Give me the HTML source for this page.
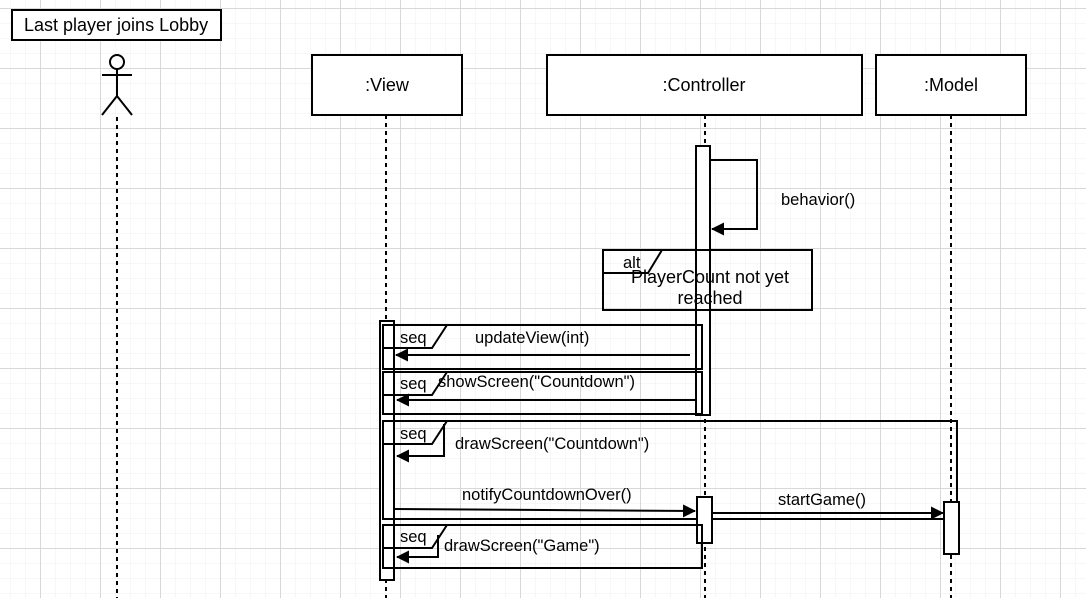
<!DOCTYPE html>
<html><head><style>
html,body{margin:0;padding:0;background:#fff;}
svg{display:block;font-family:"Liberation Sans",Arial,sans-serif;}
</style></head><body>
<svg width="1086" height="598" viewBox="0 0 1086 598" xmlns="http://www.w3.org/2000/svg">
<defs>
<pattern id="minor" x="10" y="8" width="15" height="15" patternUnits="userSpaceOnUse">
<path d="M0 0H15M0 0V15" stroke="#efefef" stroke-width="1" fill="none"/>
</pattern>
<pattern id="major" x="40" y="8" width="60" height="60" patternUnits="userSpaceOnUse">
<path d="M0 0.5H60M0.5 0V60" stroke="#d8d8d8" stroke-width="1" fill="none"/>
</pattern>
<marker id="ar" markerWidth="13" markerHeight="13" refX="12" refY="6.5" orient="auto" markerUnits="userSpaceOnUse">
<path d="M0 0L13 6.5L0 13Z" fill="#000"/>
</marker>
</defs>
<rect width="1086" height="598" fill="url(#minor)"/>
<rect width="1086" height="598" fill="url(#major)"/>
<g stroke="#000" stroke-width="2" fill="none">
<rect x="12" y="10" width="209" height="30" fill="#fff"/>
<circle cx="117" cy="62" r="7" fill="#fff"/>
<path d="M117 69V96M102 75H132M102 115L117 96L132 115"/>
<path d="M117 117V598M386 115V598M705 115V598M951 115V598" stroke-dasharray="4 4"/>
<rect x="312" y="55" width="150" height="60" fill="#fff"/>
<rect x="547" y="55" width="315" height="60" fill="#fff"/>
<rect x="876" y="55" width="150" height="60" fill="#fff"/>
<rect x="696" y="146" width="14" height="269" fill="#fff"/>
<path d="M710 160H757V229H712" marker-end="url(#ar)"/>
<rect x="603" y="250" width="209" height="60"/>
<path d="M603 273H648L662 250"/>
<rect x="380" y="321" width="14" height="259" fill="#fff"/>
<rect x="383" y="325" width="319" height="44"/>
<path d="M383 348H432L447 325"/>
<path d="M690 355H396" marker-end="url(#ar)"/>
<rect x="383" y="372" width="319" height="42"/>
<path d="M383 395H432L447 372"/>
<path d="M695 400H397" marker-end="url(#ar)"/>
<rect x="383" y="421" width="574" height="98"/>
<path d="M383 444H432L447 421"/>
<path d="M444 424V456H397" marker-end="url(#ar)"/>
<path d="M394 509L695 511" marker-end="url(#ar)"/>
<rect x="697" y="497" width="15" height="46" fill="#fff"/>
<path d="M712 513H943" marker-end="url(#ar)"/>
<rect x="944" y="502" width="15" height="52" fill="#fff"/>
<rect x="383" y="525" width="319" height="43"/>
<path d="M383 548H432L447 525"/>
<path d="M438 535V557H397" marker-end="url(#ar)"/>
</g>
<g font-size="18" fill="#000">
<text x="24" y="31">Last player joins Lobby</text>
<text x="387" y="91" text-anchor="middle">:View</text>
<text x="704" y="91" text-anchor="middle">:Controller</text>
<text x="951" y="91" text-anchor="middle">:Model</text>
<text x="710" y="283" text-anchor="middle">PlayerCount not yet</text>
<text x="710" y="304" text-anchor="middle">reached</text>
</g>
<g font-size="16.5" fill="#000">
<text x="781" y="205">behavior()</text>
<text x="623" y="268">alt</text>
<text x="400" y="343">seq</text>
<text x="475" y="343">updateView(int)</text>
<text x="400" y="389">seq</text>
<text x="438" y="387">showScreen("Countdown")</text>
<text x="400" y="439">seq</text>
<text x="455" y="449">drawScreen("Countdown")</text>
<text x="462" y="500">notifyCountdownOver()</text>
<text x="778" y="505">startGame()</text>
<text x="400" y="542">seq</text>
<text x="444" y="551">drawScreen("Game")</text>
</g>
</svg>
</body></html>
